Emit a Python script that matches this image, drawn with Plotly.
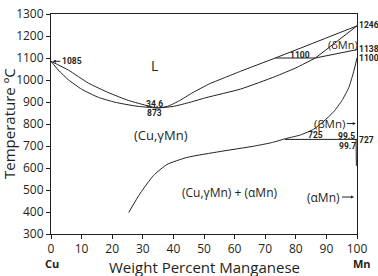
import plotly.graph_objects as go

# ---- data (wt% Mn, temperature degC) ----
liquidus_x = [0, 5.7, 12.2, 18.7, 25.3, 31.8, 34.6, 38, 42, 46, 52, 57, 62, 73.3, 100]
liquidus_T = [1085, 1045, 986, 943, 907, 882, 873, 880, 906, 940, 984, 1012, 1040, 1100, 1246]

solidus_x = [0, 2.4, 5.7, 10, 15.5, 20.9, 27.5, 34.6, 40, 45.5, 51, 62, 73.3, 80, 86.4]
solidus_T = [1085, 1045, 1001, 958, 921, 899, 882, 873, 880, 899, 921, 959, 1016, 1055, 1100]

solvus_x = [25.4, 29.2, 33.5, 37.9, 44.4, 55.3, 66.2, 72, 77.1, 81.5, 85.8, 89.1, 92.4, 95.1, 97.3, 98.9, 100]
solvus_T = [398, 486, 566, 616, 648, 675, 699, 715, 735, 750, 776, 812, 856, 907, 965, 1037, 1100]

peritectic_x = [73.3, 86.4]
peritectic_T = [1100, 1100]

delta_sol_x = [86.4, 100]
delta_sol_T = [1100, 1246]

delta_gamma_x = [86.4, 100]
delta_gamma_T = [1100, 1138]

eutectoid_x = [76.5, 100]
eutectoid_T = [730, 730]

alpha_x = [99.7, 99.8]
alpha_T = [730, 610]

x_ticks = [0, 10, 20, 30, 40, 50, 60, 70, 80, 90, 100]
y_ticks = [300, 400, 500, 600, 700, 800, 900, 1000, 1100, 1200, 1300]

INK = "#231f20"
FONT = "Open Sans"
NARROW = "Roboto"

fig = go.Figure()

def add_line(xs, ys, shape="linear"):
    fig.add_trace(go.Scatter(x=xs, y=ys, mode="lines",
                             line=dict(color=INK, width=1, shape=shape, smoothing=0.5),
                             hoverinfo="skip", showlegend=False))

add_line(liquidus_x, liquidus_T, "spline")
add_line(solidus_x, solidus_T, "spline")
add_line(solvus_x, solvus_T, "spline")
add_line(peritectic_x, peritectic_T)
add_line(delta_sol_x, delta_sol_T)
add_line(delta_gamma_x, delta_gamma_T)
add_line(eutectoid_x, eutectoid_T)
add_line(alpha_x, alpha_T)

ann = []

def lab(x, y, text, size=12, bold=False, family=FONT, **kw):
    t = f"<b>{text}</b>" if bold else text
    d = dict(x=x, y=y, xref="x", yref="y", text=t, showarrow=False,
             font=dict(family=family, size=size, color=INK))
    d.update(kw)
    ann.append(d)

def right_lab(y, text):
    ann.append(dict(x=1, y=y, xref="paper", yref="y", xanchor="left", xshift=1,
                    text=f"<b>{text}</b>", showarrow=False, borderpad=0,
                    font=dict(family=NARROW, size=8.5, color=INK)))

# small bold numbers
right_lab(1250, "1246")
right_lab(1141, "1138")
right_lab(1099, "1100")
right_lab(728, "727")
lab(81.5, 1113, "1100", 8.5, True, NARROW)
lab(33.8, 893, "34.6", 8.5, True, NARROW)
lab(33.8, 850, "873", 8.5, True, NARROW)
lab(86.4, 748, "725", 8.5, True, NARROW)
lab(96.6, 744, "99.5", 8.5, True, NARROW)
lab(96.9, 700, "99.7", 8.5, True, NARROW)

# phase labels
lab(33.8, 1066, "L", 14)
lab(95.5, 1161, "(δMn)", 11)
lab(36.0, 748, "(Cu,γMn)", 13)
lab(58.6, 490, "(Cu,γMn) + (αMn)", 12)

# arrow labels
ann.append(dict(x=0.6, y=1085, xref="x", yref="y", text="<b>1085</b>",
                showarrow=True, ax=19, ay=0, arrowhead=2, arrowsize=0.6,
                arrowwidth=1, arrowcolor=INK, standoff=0,
                font=dict(family=NARROW, size=8.5, color=INK)))
ann.append(dict(x=99.6, y=802, xref="x", yref="y", text="(βMn)",
                showarrow=True, ax=-26, ay=0, arrowhead=2, arrowsize=0.6,
                arrowwidth=1, arrowcolor=INK, standoff=0,
                font=dict(family=FONT, size=11.5, color=INK)))
ann.append(dict(x=99.0, y=468, xref="x", yref="y", text="(αMn)",
                showarrow=True, ax=-30, ay=0, arrowhead=2, arrowsize=0.6,
                arrowwidth=1, arrowcolor=INK, standoff=0,
                font=dict(family=FONT, size=12, color=INK)))

# element labels under axis
ann.append(dict(x=0, y=0, xref="paper", yref="paper", xanchor="center", yanchor="top",
                yshift=-20, xshift=1, text="<b>Cu</b>", showarrow=False,
                font=dict(family=FONT, size=11, color=INK)))
ann.append(dict(x=1, y=0, xref="paper", yref="paper", xanchor="center", yanchor="top",
                yshift=-20, xshift=5, text="<b>Mn</b>", showarrow=False,
                font=dict(family=FONT, size=11, color=INK)))

# axis titles
ann.append(dict(x=0.5, y=0, xref="paper", yref="paper", yanchor="top", yshift=-21,
                text="Weight Percent Manganese", showarrow=False,
                font=dict(family=FONT, size=15, color=INK)))
ann.append(dict(x=0, y=0.5, xref="paper", yref="paper", xanchor="right", xshift=-30,
                text="Temperature ºC", textangle=-90, showarrow=False,
                font=dict(family=FONT, size=15, color=INK)))

fig.update_layout(
    width=378, height=276,
    margin=dict(l=51, r=21, t=5, b=42),
    paper_bgcolor="white", plot_bgcolor="white",
    annotations=ann,
    xaxis=dict(range=[0, 100], tickvals=x_ticks, showgrid=False, zeroline=False,
               showline=True, linecolor=INK, linewidth=1, mirror=True,
               ticks="outside", ticklen=4, tickcolor=INK, tickwidth=1,
               ticklabeloverflow="allow",
               tickfont=dict(family=FONT, size=12, color=INK)),
    yaxis=dict(range=[300, 1300], tickvals=y_ticks, showgrid=False, zeroline=False,
               showline=True, linecolor=INK, linewidth=1, mirror=True,
               ticks="outside", ticklen=4, tickcolor=INK, tickwidth=1,
               ticklabeloverflow="allow",
               tickfont=dict(family=FONT, size=12, color=INK)),
)

fig.write_html("out.html", config={"displayModeBar": False},
               post_script="document.body.style.margin='0';document.body.style.overflow='hidden';")
